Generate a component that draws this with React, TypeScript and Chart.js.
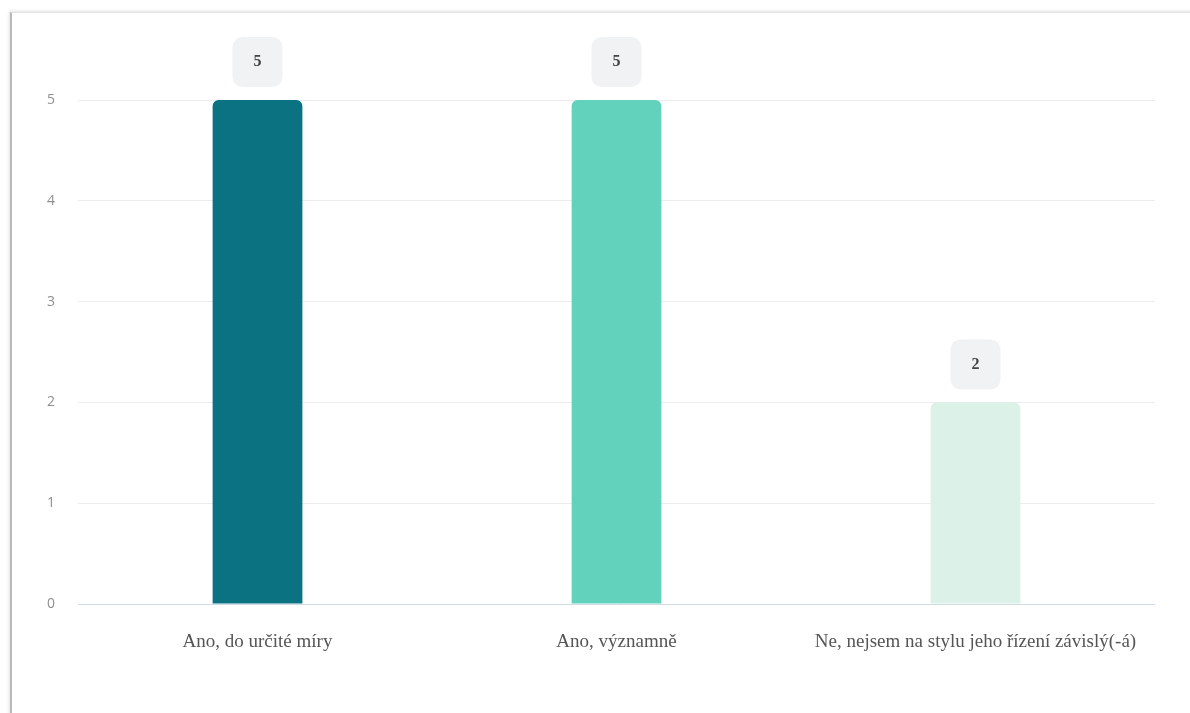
import React, { useEffect, useRef } from "react";
import { Chart, registerables } from "chart.js";

Chart.register(...registerables);

const categories = [
  "Ano, do určité míry",
  "Ano, významně",
  "Ne, nejsem na stylu jeho řízení závislý(-á)",
];
const values = [5, 5, 2];
const barColors = ["#0a7281", "#63d2bd", "#dcf1e8"];
const yTicks = [0, 1, 2, 3, 4, 5];

const valueBoxPlugin = {
  id: "valueBox",
  afterDatasetsDraw(chart: any) {
    const ctx = chart.ctx;
    const meta = chart.getDatasetMeta(0);
    meta.data.forEach((bar: any, i: number) => {
      const w = 50;
      const h = 50;
      const x = bar.x - w / 2;
      const y = bar.y - 13 - h;
      ctx.save();
      ctx.fillStyle = "#f1f2f3";
      ctx.beginPath();
      (ctx as any).roundRect(x, y, w, h, 10);
      ctx.fill();
      ctx.fillStyle = "#444";
      ctx.font = "bold 16px 'Liberation Serif', serif";
      ctx.textAlign = "center";
      ctx.textBaseline = "middle";
      ctx.fillText(String(values[i]), bar.x, y + h / 2);
      ctx.restore();
    });
  },
};

export default function App() {
  const ref = useRef<HTMLCanvasElement>(null);
  useEffect(() => {
    if (!ref.current) return;
    const chart = new Chart(ref.current, {
      type: "bar",
      data: {
        labels: categories,
        datasets: [
          {
            data: values,
            backgroundColor: barColors,
            borderRadius: { topLeft: 6, topRight: 6, bottomLeft: 0, bottomRight: 0 },
            borderSkipped: "bottom",
            barPercentage: 1,
            categoryPercentage: 0.25,
          },
        ],
      },
      options: {
        animation: false,
        responsive: false,
        maintainAspectRatio: false,
        layout: { padding: { top: 100, right: 35, left: 0, bottom: 0 } },
        plugins: { legend: { display: false }, tooltip: { enabled: false } },
        scales: {
          x: {
            grid: { display: false, drawTicks: false },
            border: { display: false },
            ticks: {
              color: "#555",
              font: { family: "'Liberation Serif', serif", size: 19 },
              padding: 27,
              maxRotation: 0,
              autoSkip: false,
            },
            afterFit(scale: any) {
              scale.height = 109;
            },
          },
          y: {
            min: 0,
            max: 5,
            afterBuildTicks(scale: any) {
              scale.ticks = yTicks.map((v) => ({ value: v }));
            },
            grid: {
              drawTicks: false,
              color: (c: any) => (c.tick && c.tick.value === 0 ? "#cfdce6" : "#ececec"),
              lineWidth: 1,
            },
            border: { display: false },
            ticks: {
              color: "#8f8f8f",
              font: { family: "'Open Sans', sans-serif", size: 14 },
              padding: 23,
            },
            afterFit(scale: any) {
              scale.width = 78;
            },
          },
        },
      },
      plugins: [valueBoxPlugin],
    });
    return () => chart.destroy();
  }, []);

  return (
    <div
      style={{
        position: "fixed",
        left: 0,
        top: 0,
        width: 1190,
        height: 713,
        background: "#fff",
        overflow: "hidden",
      }}
    >
      <div
        style={{
          position: "absolute",
          left: 10,
          top: 12,
          width: 1200,
          height: 720,
          borderLeft: "2px solid #b9b9b9",
          borderTop: "1px solid #e2e2e2",
          boxShadow: "-1px -1px 3px rgba(0,0,0,0.12)",
          background: "#fff",
        }}
      />
      <canvas
        ref={ref}
        width={1190}
        height={713}
        style={{ position: "absolute", left: 0, top: 0, width: 1190, height: 713 }}
      />
    </div>
  );
}
